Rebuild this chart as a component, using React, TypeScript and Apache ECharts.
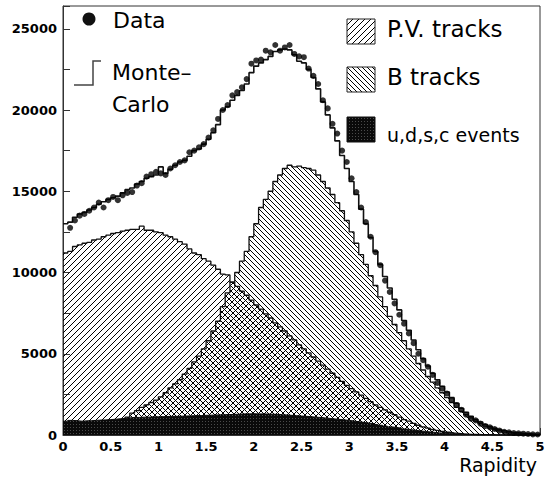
import React, { useEffect, useRef } from "react";
import * as echarts from "echarts";

// Rapidity histogram: 100 bins of width 0.05 from 0 to 5, values in thousands of entries
const BIN_WIDTH = 0.05;
const UNIT = 1000;

const MC_TOTAL = [
  13.0, 13.1, 13.4, 13.6, 13.7, 13.85, 14.0, 14.2, 14.35, 14.5,
  14.6, 14.7, 14.9, 15.1, 15.2, 15.45, 15.6, 15.8, 15.9, 16.0,
  16.5, 16.1, 16.35, 16.6, 16.8, 16.9, 17.15, 17.5, 17.6, 17.9,
  18.2, 18.6, 19.1, 20.0, 20.2, 20.6, 20.9, 21.2, 21.6, 22.3,
  22.7, 22.9, 23.1, 23.3, 23.6, 23.7, 23.75, 23.7, 23.4, 23.0,
  22.9, 22.5, 22.0, 21.3, 20.5, 19.7, 18.9, 18.1, 17.2, 16.4,
  15.6, 14.8, 13.9, 13.0, 12.15, 11.3, 10.5, 9.75, 9.05, 8.35,
  7.7, 7.05, 6.45, 5.85, 5.25, 4.7, 4.25, 3.8, 3.4, 3.0,
  2.65, 2.3, 1.95, 1.65, 1.4, 1.15, 0.95, 0.8, 0.65, 0.52,
  0.42, 0.33, 0.26, 0.2, 0.15, 0.12, 0.09, 0.07, 0.05, 0.04,
];

const PV_TRACKS = [
  11.2, 11.3, 11.6, 11.7, 11.8, 11.85, 12.0, 12.05, 12.2, 12.3,
  12.4, 12.45, 12.55, 12.6, 12.65, 12.65, 12.85, 12.6, 12.6, 12.5,
  12.45, 12.3, 12.2, 12.05, 11.9, 11.75, 11.45, 11.2, 11.1, 10.85,
  10.7, 10.45, 10.2, 9.9, 9.85, 9.4, 9.15, 8.85, 8.6, 8.3,
  8.0, 7.75, 7.45, 7.2, 6.9, 6.65, 6.4, 6.1, 5.85, 5.55,
  5.3, 5.05, 4.8, 4.55, 4.3, 4.05, 3.8, 3.55, 3.3, 3.05,
  2.85, 2.65, 2.45, 2.25, 2.05, 1.85, 1.7, 1.55, 1.4, 1.25,
  1.1, 0.95, 0.85, 0.72, 0.6, 0.5, 0.42, 0.34, 0.28, 0.22,
  0.17, 0.13, 0.1, 0.07, 0.05, 0.04, 0.03, 0.02, 0.02, 0.01,
  0.01, 0.01, 0, 0, 0, 0, 0, 0, 0, 0,
];

const B_TRACKS = [
  0.05, 0.05, 0.08, 0.1, 0.15, 0.2, 0.25, 0.35, 0.45, 0.55,
  0.65, 0.8, 0.95, 1.1, 1.35, 1.5, 1.7, 1.85, 2.0, 2.15,
  2.35, 2.6, 2.9, 3.15, 3.4, 3.75, 4.1, 4.5, 4.85, 5.3,
  5.8, 6.4, 7.0, 7.9, 8.75, 9.4, 10.0, 10.7, 11.3, 12.2,
  13.0, 14.0, 14.5, 15.0, 15.6, 16.0, 16.4, 16.6, 16.5, 16.55,
  16.45, 16.4, 16.3, 16.0, 15.6, 15.2, 14.8, 14.3, 13.8, 13.2,
  12.5, 11.8, 11.1, 10.5, 9.8, 9.2, 8.5, 7.9, 7.3, 6.8,
  6.3, 5.8, 5.3, 4.85, 4.4, 4.0, 3.6, 3.25, 2.9, 2.6,
  2.3, 2.0, 1.7, 1.45, 1.25, 1.05, 0.85, 0.7, 0.55, 0.43,
  0.33, 0.25, 0.18, 0.13, 0.09, 0.06, 0.04, 0.03, 0.02, 0.01,
];

const UDSC_EVENTS = [
  0.85, 0.9, 0.88, 0.85, 0.87, 0.88, 0.9, 0.92, 0.93, 0.95,
  0.97, 1.0, 1.02, 1.05, 1.08, 1.08, 1.1, 1.1, 1.12, 1.12,
  1.13, 1.14, 1.15, 1.15, 1.16, 1.17, 1.18, 1.19, 1.2, 1.21,
  1.22, 1.23, 1.24, 1.25, 1.26, 1.27, 1.28, 1.3, 1.3, 1.31,
  1.3, 1.3, 1.29, 1.28, 1.27, 1.25, 1.23, 1.21, 1.19, 1.17,
  1.15, 1.13, 1.1, 1.08, 1.05, 1.02, 0.99, 0.96, 0.93, 0.9,
  0.86, 0.82, 0.78, 0.74, 0.7, 0.65, 0.6, 0.55, 0.5, 0.46,
  0.42, 0.37, 0.33, 0.29, 0.25, 0.22, 0.19, 0.16, 0.13, 0.11,
  0.09, 0.07, 0.06, 0.05, 0.04, 0.03, 0.02, 0.01, 0.01, 0.01,
  0, 0, 0, 0, 0, 0, 0, 0, 0, 0,
];

const DATA_POINTS: (number | null)[] = [
  null, 12.75, 13.2, 13.5, 13.6, 13.8, 14.0, 14.3, 14.0, 14.45,
  14.65, 14.45, 14.75, 14.9, 14.95, 15.35, 15.5, 15.9, 16.05, 16.2,
  16.1, 16.0, 16.4, 16.6, 16.8, 16.9, 17.4, 17.5, 17.7, 17.9,
  18.3, 18.75, 19.45, 20.0, 20.3, 20.9, 21.1, 21.4, 21.9, 22.85,
  23.05, 23.1, 23.65, 23.55, 24.0, 23.65, 23.85, 24.0, 23.45, 23.3,
  23.25, 22.55, 22.1, 21.6, 20.6, 20.1, 19.15, 18.55, 17.5, 16.8,
  15.8, 14.95, 14.0, 13.1, 12.2, 11.25, 10.45, 9.5, 8.8, 8.1,
  7.4, 6.85, 6.25, 5.65, 5.0, 4.6, 4.2, 3.7, 3.2, 2.85,
  2.55, 2.15, 1.85, 1.55, 1.25, 1.0, 0.9, 0.7, 0.55, 0.47,
  0.37, 0.27, 0.2, 0.16, 0.12, 0.1, 0.08, 0.06, 0.04, 0.03,
];

const X_MIN = 0;
const X_MAX = 5;
const X_INTERVAL = 0.5;
const Y_MIN = 0;
const Y_MAX = 26400;
const Y_TICK_INTERVAL = 2500;
const Y_LABEL_STEP = 5000;

const LEGEND_LEFT = ["Data", "Monte–", "Carlo"];
const LEGEND_RIGHT = ["P.V. tracks", "B tracks", "u,d,s,c events"];
const X_AXIS_TITLE = "Rapidity";

function stepData(vals: number[]) {
  const pts = vals.map((v, i) => [+(i * BIN_WIDTH).toFixed(3), v * UNIT]);
  pts.push([+(vals.length * BIN_WIDTH).toFixed(3), vals[vals.length - 1] * UNIT]);
  return pts;
}

function hatchPattern(n: number, dir: "/" | "\\", color: string) {
  const c = document.createElement("canvas");
  c.width = n;
  c.height = n;
  const ctx = c.getContext("2d")!;
  ctx.fillStyle = color;
  for (let x = 0; x < n; x++) {
    const y = dir === "/" ? n - 1 - x : x;
    ctx.fillRect(x, y, 1, 1);
  }
  return { image: c, repeat: "repeat", imageWidth: n, imageHeight: n } as any;
}

function darkPattern() {
  const n = 3;
  const c = document.createElement("canvas");
  c.width = n;
  c.height = n;
  const ctx = c.getContext("2d")!;
  ctx.fillStyle = "#0a0a0a";
  ctx.fillRect(0, 0, n, n);
  ctx.fillStyle = "#4a4a4a";
  ctx.fillRect(1, 1, 1, 1);
  return { image: c, repeat: "repeat", imageWidth: n, imageHeight: n } as any;
}

const FONT = '"DejaVu Sans", "Liberation Sans", sans-serif';

export default function App() {
  const ref = useRef<HTMLDivElement>(null);

  useEffect(() => {
    if (!ref.current) return;
    const chart = echarts.init(ref.current, undefined, { renderer: "svg" });
    const pvPat = hatchPattern(6, "/", "#000");
    const bPat = hatchPattern(5, "\\", "#000");
    const udscPat = darkPattern();

    const dataPts = DATA_POINTS.map((v, i) =>
      v == null ? null : [+((i + 0.5) * BIN_WIDTH).toFixed(3), v * UNIT]
    ).filter((p) => p != null);

    const textStyle = (size: number) => ({
      font: `${size}px ${FONT}`,
      fill: "#000",
      align: "left",
      verticalAlign: "middle",
    });

    const option: any = {
      animation: false,
      backgroundColor: "#fff",
      grid: {
        left: 63,
        right: 8,
        top: 6,
        bottom: 44,
        show: true,
        borderColor: "#333",
        borderWidth: 1,
        backgroundColor: "transparent",
        containLabel: false,
        outerBoundsMode: "none",
      },
      xAxis: {
        type: "value",
        min: X_MIN,
        max: X_MAX,
        interval: X_INTERVAL,
        axisLine: { show: true, lineStyle: { color: "#333", width: 1 } },
        axisTick: { show: true, inside: true, length: 7, lineStyle: { color: "#333" } },
        splitLine: { show: false },
        axisLabel: {
          color: "#000",
          fontFamily: FONT,
          fontWeight: "bold",
          fontSize: 13,
          margin: 5,
          showMaxLabel: true,
          showMinLabel: true,
        },
      },
      yAxis: {
        type: "value",
        min: Y_MIN,
        max: Y_MAX,
        interval: Y_TICK_INTERVAL,
        axisLine: { show: true, lineStyle: { color: "#333", width: 1 } },
        axisTick: { show: true, inside: true, length: 7, lineStyle: { color: "#333" } },
        splitLine: { show: false },
        axisLabel: {
          color: "#000",
          fontFamily: FONT,
          fontWeight: "bold",
          fontSize: 13,
          margin: 6,
          formatter: (v: number) => (v % Y_LABEL_STEP === 0 ? String(v) : ""),
        },
      },
      series: [
        {
          name: "P.V. tracks",
          type: "line",
          step: "end",
          data: stepData(PV_TRACKS),
          symbol: "none",
          showSymbol: false,
          lineStyle: { color: "#111", width: 1.3 },
          areaStyle: { color: pvPat, opacity: 1 },
          z: 2,
        },
        {
          name: "B tracks",
          type: "line",
          step: "end",
          data: stepData(B_TRACKS),
          symbol: "none",
          showSymbol: false,
          lineStyle: { color: "#111", width: 1.3 },
          areaStyle: { color: bPat, opacity: 1 },
          z: 3,
        },
        {
          name: "u,d,s,c events",
          type: "line",
          step: "end",
          data: stepData(UDSC_EVENTS),
          symbol: "none",
          showSymbol: false,
          lineStyle: { color: "#0a0a0a", width: 1 },
          areaStyle: { color: udscPat, opacity: 1 },
          z: 4,
        },
        {
          name: "Monte-Carlo",
          type: "line",
          step: "end",
          data: stepData(MC_TOTAL),
          symbol: "none",
          showSymbol: false,
          lineStyle: { color: "#111", width: 1.6 },
          z: 5,
        },
        {
          name: "Data",
          type: "scatter",
          data: dataPts,
          symbol: "circle",
          symbolSize: 6,
          itemStyle: { color: "#000" },
          z: 6,
        },
      ],
      graphic: [
        { type: "circle", shape: { cx: 89, cy: 19, r: 6.5 }, style: { fill: "#111" }, z: 10 },
        { type: "text", x: 113, y: 20, style: { text: LEGEND_LEFT[0], ...textStyle(22) }, z: 10 },
        {
          type: "polyline",
          shape: { points: [[74, 85], [93, 85], [93, 61], [101, 61]] },
          style: { stroke: "#444", lineWidth: 1.5, fill: null },
          z: 10,
        },
        { type: "text", x: 112, y: 72, style: { text: LEGEND_LEFT[1], ...textStyle(22) }, z: 10 },
        { type: "text", x: 112, y: 104, style: { text: LEGEND_LEFT[2], ...textStyle(22) }, z: 10 },
        {
          type: "rect",
          shape: { x: 347, y: 19, width: 28, height: 25 },
          style: { fill: pvPat, stroke: "#222", lineWidth: 1 },
          z: 10,
        },
        { type: "text", x: 387, y: 29, style: { text: LEGEND_RIGHT[0], ...textStyle(23) }, z: 10 },
        {
          type: "rect",
          shape: { x: 347, y: 67, width: 28, height: 25 },
          style: { fill: bPat, stroke: "#222", lineWidth: 1 },
          z: 10,
        },
        { type: "text", x: 387, y: 77, style: { text: LEGEND_RIGHT[1], ...textStyle(23) }, z: 10 },
        {
          type: "rect",
          shape: { x: 347, y: 117, width: 28, height: 25 },
          style: { fill: udscPat, stroke: "#111", lineWidth: 1 },
          z: 10,
        },
        { type: "text", x: 387, y: 135, style: { text: LEGEND_RIGHT[2], ...textStyle(19) }, z: 10 },
        {
          type: "text",
          x: 537,
          y: 465,
          style: { text: X_AXIS_TITLE, font: `19px ${FONT}`, fill: "#000", align: "right", verticalAlign: "middle" },
          z: 10,
        },
      ],
    };

    chart.setOption(option);
    return () => chart.dispose();
  }, []);

  return (
    <div
      ref={ref}
      style={{ position: "absolute", left: 0, top: 0, width: 548, height: 479 }}
    />
  );
}
